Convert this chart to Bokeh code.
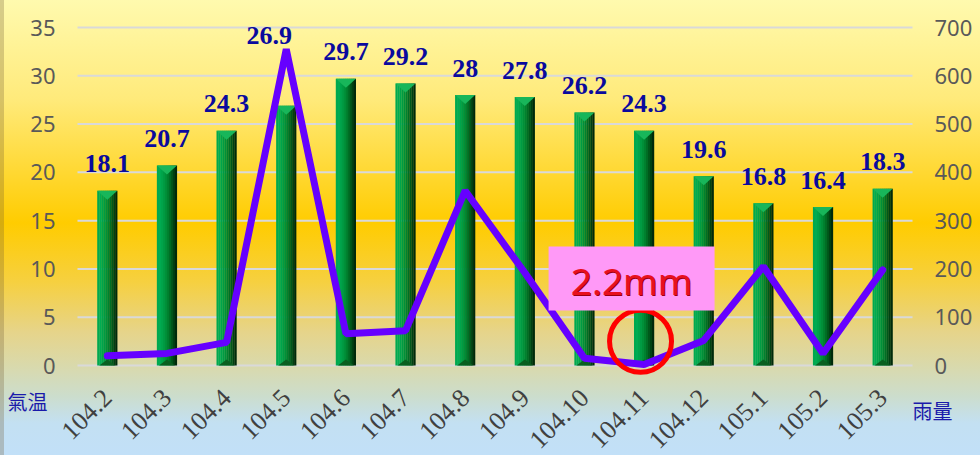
import numpy as np
from bokeh.plotting import figure
from bokeh.models import Range1d
from bokeh.core.properties import value
from bokeh.embed import file_html
from bokeh.resources import INLINE

# ---- data ----
months = ["104.2", "104.3", "104.4", "104.5", "104.6", "104.7", "104.8",
          "104.9", "104.10", "104.11", "104.12", "105.1", "105.2", "105.3"]
temperature = [18.1, 20.7, 24.3, 26.9, 29.7, 29.2, 28, 27.8, 26.2, 24.3, 19.6, 16.8, 16.4, 18.3]
rainfall = [20, 25, 48, 655, 66, 72, 362, 192, 15, 2.2, 52, 205, 25, 198]
temp_ticks = [0, 5, 10, 15, 20, 25, 30, 35]
rain_ticks = [0, 100, 200, 300, 400, 500, 600, 700]
temp_title = "氣温"
rain_title = "雨量"
highlight_month = "104.11"

# ---- layout: plot area inside a full-canvas frame ----
W_CANVAS, H_CANVAS = 980, 455
PL, PR, PT, PB = 77, 68, 27, 90           # margins around the plotting area (px)
n = len(months)
centers = np.arange(n) + 0.5
t_max, r_max = temp_ticks[-1], rain_ticks[-1]
px_x = (W_CANVAS - PL - PR) / n
px_t = (H_CANVAS - PT - PB) / t_max
px_r = (H_CANVAS - PT - PB) / r_max

p = figure(width=W_CANVAS, height=H_CANVAS, output_backend="svg", toolbar_location=None,
           x_range=Range1d(-PL / px_x, n + PR / px_x),
           y_range=Range1d(-PB / px_t, t_max + PT / px_t),
           min_border=0, background_fill_alpha=0, border_fill_alpha=0,
           outline_line_color=None)
p.extra_y_ranges = {"rain": Range1d(-PB / px_r, r_max + PT / px_r)}
p.xaxis.visible = False
p.yaxis.visible = False
p.xgrid.visible = False
p.ygrid.visible = False
p.styles = {"background": "linear-gradient(to bottom, #FFFAAE 0%, #FFEA7A 22%, #FFD936 37%, "
                          "#FFCC00 49%, #F6D040 62%, #E6D48A 73%, #DAD9AA 80%, #CCDDCC 87%, "
                          "#C3E0F2 93%, #C2E0F8 100%)",
            "box-shadow": "inset 4px 0 0 0 rgba(110, 90, 50, 0.28)"}

# gridlines
p.multi_line(xs=[[0, n] for _ in temp_ticks], ys=[[t, t] for t in temp_ticks],
             line_color="#D9D9D9", line_width=2)

# axis tick labels
p.text(x=[0] * len(temp_ticks), y=temp_ticks, text=[str(t) for t in temp_ticks],
       x_offset=-22, text_font=value("Noto Sans"), text_font_size="22px",
       text_color="#595959", text_align="right", text_baseline="middle")
p.text(x=[n] * len(rain_ticks), y=rain_ticks, text=[str(r) for r in rain_ticks],
       y_range_name="rain", x_offset=22, text_font=value("Noto Sans"), text_font_size="22px",
       text_color="#595959", text_align="left", text_baseline="middle")
p.text(x=centers, y=[0] * n, text=months, angle=np.pi / 4, x_offset=0, y_offset=28,
       text_font=value("Liberation Serif"), text_font_size="26px", text_color="#404040",
       text_align="right", text_baseline="middle")

# axis titles
p.text(x=[0], y=[0], text=[temp_title], x_offset=-50, y_offset=36,
       text_font=value("Noto Sans CJK TC"), text_font_size="20px", text_color="#1A1AAA",
       text_align="center", text_baseline="middle")
p.text(x=[n], y=[0], text=[rain_title], x_offset=20, y_offset=45,
       text_font=value("Noto Sans CJK TC"), text_font_size="20px", text_color="#1A1AAA",
       text_align="center", text_baseline="middle")

# ---- 3D-looking bars ----
W = 0.335
strip_colors = ["#00A850", "#00AC52", "#00A44B", "#009B43", "#009039",
                "#00812F", "#006E25", "#00581B", "#004113", "#002A0A"]
ns = len(strip_colors)
sw = W / ns
for k, col in enumerate(strip_colors):
    off = -W / 2 + (k + 0.5) * sw
    p.vbar(x=centers + off, top=temperature, bottom=0, width=sw * 1.12,
           fill_color=col, line_color=None)

dv = 9 / px_t
p.patches([[c - W / 2, c + W / 2, c] for c in centers],
          [[t, t, t - dv] for t in temperature], fill_color="#18B65A", line_color=None)
db = 6 / px_t
p.patches([[c - W / 2 + sw, c + W / 2 - sw, c] for c in centers],
          [[0, 0, db] for _ in centers], fill_color="#0A5F20", line_color=None)

# value labels
x_off = [0.0] * n
y_off = [-27.0] * n
peak_i = months.index("104.5")
x_off[peak_i] = -17.0
y_off[peak_i] = -70.0
p.text(x=centers, y=temperature, text=[f"{v:g}" for v in temperature],
       x_offset=x_off, y_offset=y_off,
       text_font=value("Liberation Serif"), text_font_style="bold",
       text_font_size="26px", text_color="#0A0A9E",
       text_align="center", text_baseline="alphabetic")

# rainfall line
p.line(x=centers, y=rainfall, y_range_name="rain", line_color="#6600FF",
       line_width=7, line_join="bevel", line_cap="round")

# highlight annotation
hi = months.index(highlight_month)
p.scatter(x=[centers[hi] - 0.06], y=[rainfall[hi] + 48], y_range_name="rain",
          marker="circle", size=62, fill_color=None, line_color="#FF0000", line_width=5)
bx, by = centers[hi] - 0.21, rainfall[hi] + 178
p.rect(x=[bx], y=[by], width=166, height=64, width_units="screen", height_units="screen",
       y_range_name="rain", fill_color="#FF99F7", line_color=None)
p.text(x=[bx], y=[by], text=[f"{rainfall[hi]:g}mm"], y_range_name="rain",
       x_offset=1, y_offset=3,
       text_font=value("Noto Sans"), text_font_size="37px", text_color="#9A0010",
       text_align="center", text_baseline="middle")
p.text(x=[bx], y=[by], text=[f"{rainfall[hi]:g}mm"], y_range_name="rain",
       y_offset=2,
       text_font=value("Noto Sans"), text_font_size="37px", text_color="#E8101E",
       text_align="center", text_baseline="middle")

open("out.html", "w").write(file_html(p, INLINE))
